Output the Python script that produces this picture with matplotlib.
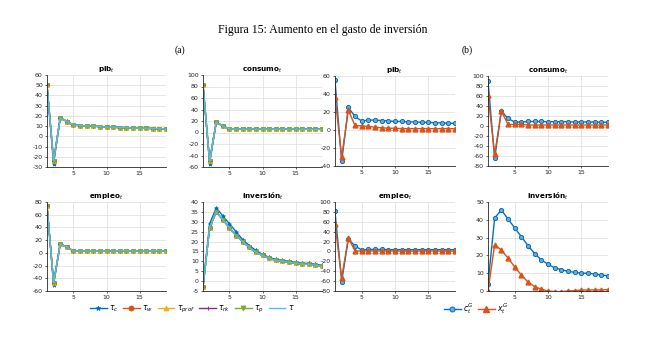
import numpy as np
import matplotlib
matplotlib.use('Agg')
import matplotlib.pyplot as plt

plt.rcParams['font.family'] = ['DejaVu Sans']
plt.rcParams['mathtext.fontset'] = 'dejavusans'
plt.rcParams['axes.unicode_minus'] = False

t = list(range(1, 20))

# panel (a): los seis impuestos, casi iguales
pib_a_c = [50, -27, 18, 15, 11, 10.5, 10, 10, 9.5, 9, 9, 8.5, 8.5, 8, 8, 8, 7.5, 7.5, 7]
pib_a = [50, -24, 18, 14.5, 11, 10.5, 10, 10, 9.5, 9, 9, 8.5, 8.5, 8, 8, 8, 7.5, 7.5, 7]
cons_a_c = [83, -54, 18, 12, 6, 6, 6, 6.5, 6.5, 6, 6, 6, 6, 6, 6, 6, 5.5, 5.5, 5.5]
cons_a = [83, -50, 18, 11, 6, 6, 6, 6, 6, 6, 6, 6, 6, 6, 6, 6, 5.5, 5.5, 5.5]
empl_a_c = [74, -50, 14, 9, 3, 3, 3, 3, 3, 3, 3, 3, 3, 3, 3, 3, 3, 3, 3]
empl_a = [74, -47, 14, 9, 3, 3, 3, 3, 3, 3, 3, 3, 3, 3, 3, 3, 3, 3, 3]
inv_a_c = [-3, 29, 37, 33, 29, 25, 21, 18, 15.5, 13.5, 12, 11, 10.5, 10, 9.5, 9, 9, 8.5, 8]
inv_a = [-3, 27, 35, 31, 27, 23, 20, 17, 14.5, 13, 11.5, 10.5, 10, 9.5, 9, 8.5, 8.5, 8, 7.5]

# panel (b): c_t^G y x_t^G
pib_cg = [55, -35, 25, 15, 10, 11, 11, 10.5, 10, 9.5, 9.5, 9, 9, 8.5, 8.5, 8, 8, 7.5, 7.5]
pib_xg = [37, -30, 22, 5, 4.5, 4, 3, 2.5, 2, 2, 1.5, 1.5, 1.5, 1.5, 1.5, 1.5, 1.5, 1.5, 1.5]
cons_cg = [90, -65, 30, 15, 8, 8, 9, 9, 9, 8.5, 8.5, 8.5, 8.5, 8, 8, 8, 8, 7.5, 7.5]
cons_xg = [62, -57, 30, 3, 3, 3, 2, 2, 2, 2, 2, 2, 2, 2, 2, 2, 2, 2, 2]
empl_cg = [81, -61, 25, 11, 3, 4, 4, 4, 3.5, 3.5, 3.5, 3.5, 3.5, 3.5, 3.5, 3.5, 3.5, 3.5, 3.5]
empl_xg = [55, -53, 27, 1, 1, 1, 1, 1, 1, 1, 1, 1, 1, 1, 1, 1, 1, 1, 1]
inv_cg = [4, 41, 45.5, 40.5, 35.5, 30.5, 25.5, 21, 17.5, 15, 13, 12, 11, 10.5, 10, 10, 9.5, 9, 8.5]
inv_xg = [0, 26, 23, 18.5, 13.5, 9, 5, 2.5, 1, 0, -0.3, -0.3, 0, 0.2, 0.5, 0.6, 0.6, 0.6, 0.8]

tax_labels = [r'$\tau_c$', r'$\tau_w$', r'$\tau_{prof}$', r'$\tau_{rk}$', r'$\tau_p$', r'$\tau$']
tax_colors = ['#0072BD', '#D95319', '#EDB120', '#7E2F8E', '#77AC30', '#4DBEEE']
tax_markers = ['*', 'o', '^', '+', 'v', None]

fig = plt.figure(figsize=(6.6, 3.51), dpi=100)
W, H = 660, 351


def make_ax(x0, x1, y0, y1):
    return fig.add_axes([x0 / W, 1 - y1 / H, (x1 - x0) / W, (y1 - y0) / H])


def style(ax, title, ylim, yticks):
    ax.set_xlim(1, 19)
    ax.set_ylim(*ylim)
    ax.set_xticks([5, 10, 15])
    ax.set_yticks(yticks)
    ax.grid(True, color='#dcdcdc', linewidth=0.5)
    ax.set_axisbelow(True)
    for s in ['top', 'right']:
        ax.spines[s].set_visible(False)
    for s in ['left', 'bottom']:
        ax.spines[s].set_linewidth(0.6)
        ax.spines[s].set_color('#262626')
    ax.tick_params(labelsize=4.5, length=1.5, width=0.5, pad=1.5, colors='#262626')
    ax.set_title(title, fontsize=5.2, fontweight='bold', pad=2)


def plot_taxes(ax, first, rest):
    lines = []
    for i in range(6):
        y = first if i == 0 else rest
        ln, = ax.plot(t, y, color=tax_colors[i], marker=tax_markers[i], markersize=3,
                      linewidth=1.0, markeredgewidth=0.6)
        lines.append(ln)
    return lines


ax1 = make_ax(47, 166, 75, 167)
lines_a = plot_taxes(ax1, pib_a_c, pib_a)
style(ax1, r'pib$_t$', (-30, 60), range(-30, 61, 10))

ax2 = make_ax(203, 322, 75, 167)
plot_taxes(ax2, cons_a_c, cons_a)
style(ax2, r'consumo$_t$', (-60, 100), range(-60, 101, 20))

ax3 = make_ax(47, 166, 202, 291)
plot_taxes(ax3, empl_a_c, empl_a)
style(ax3, r'empleo$_t$', (-60, 80), range(-60, 81, 20))

ax4 = make_ax(203, 322, 202, 291)
plot_taxes(ax4, inv_a_c, inv_a)
style(ax4, r'inversión$_t$', (-5, 40), range(-5, 41, 5))


def plot_g(ax, cg, xg):
    l1, = ax.plot(t, cg, color='#0072BD', marker='o', markersize=3, linewidth=1.0,
                  markerfacecolor='#6fa8d6', markeredgewidth=0.7)
    l2, = ax.plot(t, xg, color='#D95319', marker='^', markersize=3.5, linewidth=1.0)
    return [l1, l2]


ax5 = make_ax(335, 455, 76, 166)
lines_b = plot_g(ax5, pib_cg, pib_xg)
style(ax5, r'pib$_t$', (-40, 60), range(-40, 61, 20))

ax6 = make_ax(488, 608, 76, 166)
plot_g(ax6, cons_cg, cons_xg)
style(ax6, r'consumo$_t$', (-80, 100), range(-80, 101, 20))

ax7 = make_ax(335, 455, 202, 291)
plot_g(ax7, empl_cg, empl_xg)
style(ax7, r'empleo$_t$', (-80, 100), range(-80, 101, 20))

ax8 = make_ax(488, 608, 202, 291)
plot_g(ax8, inv_cg, inv_xg)
style(ax8, r'inversión$_t$', (0, 50), range(0, 51, 10))

fig.legend(lines_a, tax_labels, loc='center', bbox_to_anchor=(192 / W, 1 - 309 / H),
           ncol=6, fontsize=5.5, frameon=False, handlelength=2.2, handletextpad=0.3,
           columnspacing=0.6, markerscale=1.2)
fig.legend(lines_b, [r'$c_t^G$', r'$x_t^G$'], loc='center',
           bbox_to_anchor=(476 / W, 1 - 309 / H), ncol=2, fontsize=5.5, frameon=False,
           handlelength=2.2, handletextpad=0.3, columnspacing=0.6, markerscale=1.2)

fig.text(323 / W, 1 - 30 / H, 'Figura 15: Aumento en el gasto de inversión',
         ha='center', va='center', fontsize=8.5, family='Liberation Serif')
fig.text(180 / W, 1 - 50 / H, '(a)', ha='center', va='center', fontsize=7,
         family='Liberation Serif')
fig.text(467 / W, 1 - 50 / H, '(b)', ha='center', va='center', fontsize=7,
         family='Liberation Serif')

fig.savefig('out.png', dpi=100, facecolor='white')
